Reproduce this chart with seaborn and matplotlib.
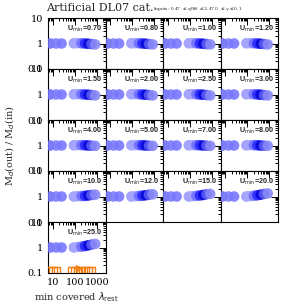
import numpy as np
import pandas as pd
import matplotlib
matplotlib.use("Agg")
import matplotlib.pyplot as plt
from matplotlib.ticker import LogLocator, NullFormatter, FixedLocator, FixedFormatter
import seaborn as sns

sns.set_style("white")
plt.rcParams['font.family'] = ['DejaVu Serif']

# --- data ---
umin_labels = ["0.70", "0.80", "1.00", "1.20", "1.50", "2.00", "2.50", "3.00",
               "4.00", "5.00", "7.00", "8.00", "10.0", "12.0", "15.0", "20.0", "25.0"]
min_lambda = [7.5, 14, 25, 90, 130, 200, 290, 410, 580, 850]
point_colors = ["#6f6ff8", "#7d7dfa", "#7878ff", "#9a9afc", "#a6a6ff", "#7070ff",
                "#2a2aff", "#0808d8", "#5a5af5", "#8888f8"]
ratio_low = [1.0, 1.0, 1.0, 1.02, 1.03, 1.02, 1.0, 0.98, 0.95, 0.92]
ratio_mid = [1.0, 1.0, 1.0, 1.02, 1.03, 1.03, 1.02, 1.0, 0.98, 0.97]
ratio_u10 = [1.0, 1.0, 1.0, 1.0, 1.02, 1.04, 1.06, 1.1, 1.15, 1.18]
ratio_u12 = [1.0, 1.0, 1.0, 1.0, 1.02, 1.05, 1.08, 1.12, 1.18, 1.22]
ratio_u15 = [1.0, 1.0, 1.0, 1.0, 1.03, 1.06, 1.1, 1.15, 1.22, 1.26]
ratio_u20 = [1.0, 1.0, 1.0, 1.0, 1.03, 1.07, 1.12, 1.18, 1.26, 1.32]
ratio_u25 = [1.0, 1.0, 1.0, 1.0, 1.04, 1.08, 1.14, 1.22, 1.3, 1.38]
panel_ratios = [ratio_low] * 8 + [ratio_mid] * 4 + [ratio_u10, ratio_u12, ratio_u15, ratio_u20, ratio_u25]

flag_lambda = [7.5, 10.5, 14.5, 75, 105, 145, 200, 280, 390, 540]
flag_ratio = [0.12, 0.12, 0.12, 0.12, 0.12, 0.12, 0.12, 0.12, 0.12, 0.12]

W = H = 307
fig = plt.figure(figsize=(3.07, 3.07), dpi=100)

left_px, top_px = 48, 18
pw, ph = 57.5, 51

for i, lab in enumerate(umin_labels):
    r, c = divmod(i, 4)
    x0 = (left_px + c * pw) / W
    y0 = 1 - (top_px + (r + 1) * ph) / H
    ax = fig.add_axes([x0, y0, pw / W, ph / H])
    df = pd.DataFrame({"lam": min_lambda, "ratio": panel_ratios[i], "k": range(len(min_lambda))})
    sns.scatterplot(data=df, x="lam", y="ratio", hue="k", palette=point_colors,
                    s=58, edgecolor="none", alpha=0.9, legend=False, ax=ax, zorder=3)
    ax.set_xscale("log")
    ax.set_yscale("log")
    ax.set_xlim(6, 2500)
    ax.set_ylim(0.1, 10)
    ax.set_xlabel("")
    ax.set_ylabel("")
    for s in ax.spines.values():
        s.set_color("black")
        s.set_linewidth(0.8)
    ax.tick_params(which="both", direction="in", top=True, right=True, colors="black",
                   width=0.7, labelsize=7)
    ax.tick_params(which="major", length=5)
    ax.tick_params(which="minor", length=2.5)
    ax.yaxis.set_major_locator(FixedLocator([0.1, 1, 10]))
    ax.yaxis.set_minor_locator(LogLocator(base=10, subs=np.arange(2, 10), numticks=10))
    ax.xaxis.set_major_locator(FixedLocator([10, 100, 1000]))
    ax.xaxis.set_minor_locator(LogLocator(base=10, subs=np.arange(2, 10), numticks=10))
    ax.yaxis.set_minor_formatter(NullFormatter())
    ax.xaxis.set_minor_formatter(NullFormatter())
    if c == 0:
        ax.yaxis.set_major_formatter(FixedFormatter(["0.1", "1", "10"]))
    else:
        ax.set_yticklabels([])
    if i == len(umin_labels) - 1:
        ax.xaxis.set_major_formatter(FixedFormatter(["10", "100", "1000"]))
        fdf = pd.DataFrame({"lam": flag_lambda, "ratio": flag_ratio})
        sns.scatterplot(data=fdf, x="lam", y="ratio", marker="s", s=34,
                        facecolor="none", edgecolor="#f07f10", linewidth=1.0,
                        legend=False, ax=ax, zorder=4)
        ax.annotate("", xy=(330, 0.15), xytext=(75, 0.15),
                    arrowprops=dict(arrowstyle="->", color="#f07f10", lw=1.0))
        ax.set_xlabel("")
        ax.set_ylabel("")
    else:
        ax.set_xticklabels([])
    ax.text(0.94, 0.79, r"U$_{\mathrm{min}}$=" + lab, transform=ax.transAxes,
            ha="right", va="center", fontsize=5.2, fontweight="bold",
            family="Liberation Sans")

fig.text(46 / W, 1 - 8 / H, "Artificial DL07 cat.", fontsize=8, va="center", ha="left")
fig.text(153 / W, 1 - 9 / H, r"Inputs: 0.47 $\leq$ q$_{\rm PAH}$ $\leq$3.47 0 $\leq$ $\gamma\leq$0.1",
         fontsize=3.2, va="center", ha="left")
fig.text(10 / W, 1 - 146 / H, r"M$_d$(out) / M$_d$(in)", rotation=90, fontsize=7,
         va="center", ha="center")
fig.text(76 / W, 1 - 297 / H, r"min covered $\lambda_{\rm rest}$", fontsize=7,
         va="center", ha="center")

fig.savefig("out.png", dpi=100)
